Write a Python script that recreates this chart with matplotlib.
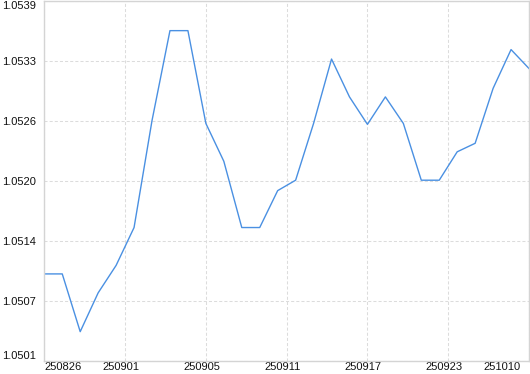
import matplotlib
matplotlib.use("Agg")
import matplotlib.pyplot as plt
import matplotlib.transforms as mtransforms
import numpy as np

# trading days (yymmdd) and values
dates = ["250826", "250827", "250828", "250829", "250901", "250902", "250903",
         "250904", "250905", "250908", "250909", "250910", "250911", "250912",
         "250915", "250916", "250917", "250918", "250919", "250922", "250923",
         "250924", "250925", "250926", "250929", "250930", "251009", "251010"]
values = [1.05102, 1.05102, 1.05041, 1.05082, 1.05111, 1.05151, 1.05264,
          1.05359, 1.05359, 1.05261, 1.05221, 1.05151, 1.05151, 1.05190,
          1.05201, 1.05261, 1.05329, 1.05289, 1.05260, 1.05289, 1.05261,
          1.05201, 1.05201, 1.05231, 1.05240, 1.05298, 1.05339, 1.05319]
tick_label_idx = [0, 4, 8, 12, 16, 20, 27]
y_min, y_max = 1.0501, 1.0539

plt.rcParams['font.family'] = ['Liberation Sans', 'DejaVu Sans']
plt.rcParams['lines.scale_dashes'] = False

fig = plt.figure(figsize=(5.30, 3.74), dpi=100)
ax = fig.add_axes([44.3 / 530, 13 / 374, (529 - 44.3) / 530, (361 - 1.3) / 374])

x = np.arange(len(values))
ax.plot(x, values, color='#4a90e2', lw=1.0)

ax.set_xlim(0, len(values) - 1)
ax.set_ylim(y_min, y_max)

yt = np.linspace(y_min, y_max, 7)
ax.set_yticks(yt)
ax.set_yticklabels([f"{v:.4f}" for v in yt])
xt = np.linspace(0, len(values) - 1, 7)
ax.set_xticks(xt)
ax.set_xticklabels([dates[i] for i in tick_label_idx])

ax.tick_params(length=0, labelsize=8, colors='#111111')
ax.tick_params(axis='x', pad=1)
ax.tick_params(axis='y', pad=6)

ax.grid(True, color='#dcdcdc', linestyle=(0, (2.2, 1.5)), lw=0.75)
for s in ax.spines.values():
    s.set_color('#d4d4d4')
    s.set_linewidth(1.0)

# nudge edge labels inside, like the original widget
xlabels = ax.get_xticklabels()
xlabels[0].set_ha('left')
for lab in xlabels[1:-1]:
    lab.set_transform(lab.get_transform() + mtransforms.ScaledTranslation(-4 / 100, 0, fig.dpi_scale_trans))
xlabels[-1].set_transform(xlabels[-1].get_transform() + mtransforms.ScaledTranslation(-27 / 100, 0, fig.dpi_scale_trans))
ylabels = ax.get_yticklabels()
ylabels[0].set_va('bottom')
ylabels[-1].set_va('top')

fig.savefig("out.png", dpi=100)
